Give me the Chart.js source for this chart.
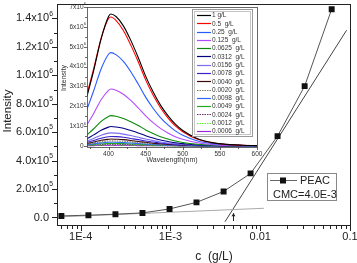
<!DOCTYPE html>
<html>
<head>
<meta charset="utf-8">
<script src="https://cdn.jsdelivr.net/npm/chart.js@4.4.1/dist/chart.umd.min.js"></script>
<style>
  html, body { margin: 0; padding: 0; background: #fff; }
  #wrap { position: relative; width: 357px; height: 263px; }
  #wrap canvas { position: absolute; left: 0; top: 0; }
</style>
</head>
<body>
<div id="wrap">
  <canvas id="mainChart" width="357" height="263"></canvas>
  <canvas id="insetChart" width="357" height="263"></canvas>
</div>
<script>
// main plot: intensity vs concentration (g/L)
const concentrations = [6.1e-5, 1.22e-4, 2.44e-4, 4.88e-4, 9.77e-4, 1.95e-3, 3.91e-3, 7.81e-3, 0.0156, 0.03125, 0.0625];
const intensity = [11000, 16000, 23000, 32000, 60000, 106000, 183000, 310000, 572000, 924000, 1465000];

// the two fitted lines used to find the CMC
const baseFitX = [5.9e-5, 0.011];
const baseFitY = [4000, 64700];
const steepFitX = [4.05e-3, 0.0916];
const steepFitY = [-30000, 1317000];
const arrowX = 4.97e-3;
const arrowY = [-25000, 30000];

const concTicks = [1e-4, 1e-3, 1e-2, 1e-1];
const concTickLabels = ["1E-4", "1E-3", "0.01", "0.1"];
const intensityTicks = [0, 2e5, 4e5, 6e5, 8e5, 1e6, 1.2e6, 1.4e6];
const intensityTickLabels = [["0.0", ""], ["2.0x10", "5"], ["4.0x10", "5"], ["6.0x10", "5"], ["8.0x10", "5"],
  ["1.0x10", "6"], ["1.2x10", "6"], ["1.4x10", "6"]];

// inset: emission spectra (intensity in units of 10^6)
const wavelengths = [371, 380, 390, 400, 403, 410, 420, 430, 440, 450, 460, 470, 480, 490, 500, 520, 540, 560, 580, 600];
const spec_1      = [2.50, 3.80, 5.40, 6.52, 6.65, 6.52, 6.05, 5.32, 4.46, 3.52, 2.73, 2.06, 1.53, 1.10, 0.78, 0.37, 0.17, 0.08, 0.04, 0.02];
const spec_0500   = [2.62, 3.90, 5.42, 6.42, 6.50, 6.33, 5.82, 5.08, 4.24, 3.33, 2.57, 1.93, 1.42, 1.01, 0.72, 0.34, 0.16, 0.07, 0.04, 0.02];
const spec_0250   = [1.85, 2.78, 3.88, 4.62, 4.70, 4.60, 4.26, 3.74, 3.12, 2.46, 1.90, 1.43, 1.06, 0.76, 0.54, 0.25, 0.12, 0.06, 0.03, 0.01];
const spec_0125   = [1.07, 1.64, 2.33, 2.80, 2.87, 2.81, 2.61, 2.30, 1.92, 1.52, 1.18, 0.89, 0.66, 0.47, 0.34, 0.16, 0.07, 0.03, 0.02, 0.01];
const spec_0625   = [0.56, 0.87, 1.24, 1.49, 1.53, 1.50, 1.39, 1.22, 1.03, 0.81, 0.63, 0.47, 0.35, 0.25, 0.18, 0.09, 0.04, 0.02, 0.01, 0.00];
const spec_0312   = [0.36, 0.56, 0.79, 0.95, 0.98, 0.96, 0.89, 0.78, 0.66, 0.52, 0.40, 0.30, 0.23, 0.16, 0.12, 0.05, 0.03, 0.01, 0.01, 0.00];
const spec_0156   = [0.25, 0.38, 0.54, 0.65, 0.66, 0.65, 0.60, 0.53, 0.44, 0.35, 0.27, 0.20, 0.15, 0.11, 0.08, 0.04, 0.02, 0.01, 0.00, 0.00];
const spec_0078   = [0.18, 0.28, 0.39, 0.47, 0.48, 0.47, 0.44, 0.38, 0.32, 0.25, 0.20, 0.15, 0.11, 0.08, 0.06, 0.03, 0.01, 0.01, 0.00, 0.00];
const spec_0040   = [0.13, 0.20, 0.29, 0.34, 0.35, 0.34, 0.32, 0.28, 0.23, 0.19, 0.14, 0.11, 0.08, 0.06, 0.04, 0.02, 0.01, 0.00, 0.00, 0.00];
const spec_0020   = [0.10, 0.15, 0.21, 0.25, 0.26, 0.25, 0.24, 0.21, 0.17, 0.14, 0.11, 0.08, 0.06, 0.04, 0.03, 0.01, 0.01, 0.00, 0.00, 0.00];
const spec_0098   = [0.07, 0.11, 0.16, 0.19, 0.19, 0.19, 0.17, 0.15, 0.13, 0.10, 0.08, 0.06, 0.04, 0.03, 0.02, 0.01, 0.00, 0.00, 0.00, 0.00];
const spec_0049   = [0.05, 0.08, 0.11, 0.13, 0.13, 0.13, 0.12, 0.10, 0.09, 0.07, 0.05, 0.04, 0.03, 0.02, 0.02, 0.01, 0.00, 0.00, 0.00, 0.00];
const spec_0024   = [0.03, 0.05, 0.07, 0.09, 0.09, 0.09, 0.08, 0.07, 0.06, 0.05, 0.04, 0.03, 0.02, 0.01, 0.01, 0.01, 0.00, 0.00, 0.00, 0.00];
const spec_0012   = [0.02, 0.03, 0.05, 0.06, 0.06, 0.06, 0.05, 0.05, 0.04, 0.03, 0.02, 0.02, 0.01, 0.01, 0.01, 0.00, 0.00, 0.00, 0.00, 0.00];
const spec_0006   = [0.01, 0.02, 0.03, 0.03, 0.035, 0.03, 0.03, 0.03, 0.02, 0.02, 0.01, 0.01, 0.01, 0.01, 0.00, 0.00, 0.00, 0.00, 0.00, 0.00];

const specLabels = ["1 g/L", "0.5  g/L", "0.25  g/L", "0.125  g/L", "0.0625  g/L", "0.0312  g/L", "0.0156  g/L",
  "0.0078  g/L", "0.0040  g/L", "0.0020  g/L", "0.0098  g/L", "0.0049  g/L", "0.0024  g/L", "0.0012  g/L", "0.0006  g/L"];
const specColors = ["#000000", "#ff0000", "#2a5bff", "#b24cff", "#0a8a0a", "#000080", "#7a6cf0",
  "#3a22c8", "#3d0a0a", "#7f8060", "#2f6bff", "#22aa22", "#7a2a6a", "#55ee22", "#9a2ae0"];
const specDashed = [false, false, false, false, false, false, false, false, false, true, false, false, true, true, false];

const wlTicks = [400, 450, 500, 550, 600];
const specTicks = [0, 1, 2, 3, 4, 5, 6, 7];

const specSeries = [spec_1, spec_0500, spec_0250, spec_0125, spec_0625, spec_0312, spec_0156,
  spec_0078, spec_0040, spec_0020, spec_0098, spec_0049, spec_0024, spec_0012, spec_0006];

const FONT = '"Liberation Sans", Arial, sans-serif';

// text with a raised exponent, base right-aligned at x
function sciLabel(ctx, base, sup, x, y, size) {
  ctx.font = size + "px " + FONT;
  ctx.textAlign = "right";
  ctx.textBaseline = "middle";
  ctx.fillText(base, x, y);
  if (sup) {
    ctx.font = (size * 0.62) + "px " + FONT;
    ctx.textAlign = "left";
    ctx.fillText(sup, x + 0.3, y - size * 0.42);
  }
}

const px = v => Math.round(v) + 0.5;

const mainDeco = {
  id: "mainDeco",
  afterDraw(chart) {
    const { ctx, chartArea: a, scales: { x, y } } = chart;
    ctx.save();
    ctx.strokeStyle = "#222";
    ctx.lineWidth = 1;
    ctx.strokeRect(px(a.left), px(a.top), Math.round(a.right - a.left), Math.round(a.bottom - a.top) - 1);

    // log ticks on bottom
    ctx.beginPath();
    for (let n = -5; n <= -1; n++) {
      for (let k = 1; k <= 9; k++) {
        const v = k * Math.pow(10, n);
        if (v < x.min * 0.999 || v > x.max * 1.001) continue;
        const xp = px(x.getPixelForValue(v));
        ctx.moveTo(xp, a.bottom);
        ctx.lineTo(xp, a.bottom + (k === 1 ? 5 : 3));
      }
    }
    // y ticks on left
    for (let v = 0; v <= 1.45e6; v += 1e5) {
      const yp = px(y.getPixelForValue(v));
      const major = Math.round(v / 1e5) % 2 === 0;
      ctx.moveTo(a.left, yp);
      ctx.lineTo(a.left - (major ? 5 : 3), yp);
    }
    ctx.stroke();

    ctx.fillStyle = "#222";
    concTicks.forEach((v, i) => {
      ctx.font = "11px " + FONT;
      ctx.textAlign = "center";
      ctx.textBaseline = "middle";
      ctx.fillText(concTickLabels[i], x.getPixelForValue(v), a.bottom + 11);
    });
    intensityTicks.forEach((v, i) => {
      sciLabel(ctx, intensityTickLabels[i][0], intensityTickLabels[i][1], 49, y.getPixelForValue(v), 11);
    });

    // axis titles
    ctx.font = "12px " + FONT;
    ctx.textAlign = "center";
    ctx.textBaseline = "middle";
    ctx.fillText("c  (g/L)", 214, 257);
    ctx.save();
    ctx.translate(8, 111);
    ctx.rotate(-Math.PI / 2);
    ctx.font = "11.5px " + FONT;
    ctx.fillText("Intensity", 0, 0);
    ctx.restore();

    // small arrow at the CMC
    const ax = px(x.getPixelForValue(arrowX));
    const ay0 = y.getPixelForValue(arrowY[0]);
    const ay1 = y.getPixelForValue(arrowY[1]);
    ctx.beginPath();
    ctx.moveTo(ax, ay0);
    ctx.lineTo(ax, ay1);
    ctx.stroke();
    ctx.beginPath();
    ctx.moveTo(ax - 2, ay1 + 3);
    ctx.lineTo(ax, ay1);
    ctx.lineTo(ax + 2, ay1 + 3);
    ctx.closePath();
    ctx.fill();

    // legend box
    ctx.fillStyle = "#fff";
    ctx.fillRect(267, 173, 70, 28);
    ctx.strokeStyle = "#888";
    ctx.strokeRect(267.5, 173.5, 69, 27);
    ctx.strokeStyle = "#666";
    ctx.beginPath();
    ctx.moveTo(270, 180.5);
    ctx.lineTo(297, 180.5);
    ctx.stroke();
    ctx.fillStyle = "#111";
    ctx.fillRect(280, 177.5, 6, 6);
    ctx.fillStyle = "#222";
    ctx.font = "11px " + FONT;
    ctx.textAlign = "left";
    ctx.textBaseline = "middle";
    ctx.fillText("PEAC", 300, 181);
    ctx.fillText("CMC=4.0E-3", 273, 194.5);
    ctx.restore();
  }
};

new Chart(document.getElementById("mainChart"), {
  type: "scatter",
  data: {
    datasets: [
      {
        label: "PEAC",
        data: concentrations.map((c, i) => ({ x: c, y: intensity[i] })),
        showLine: true,
        borderColor: "#555",
        borderWidth: 1,
        pointStyle: "rect",
        pointRadius: 4.2,
        pointBackgroundColor: "#111",
        pointBorderColor: "#111",
        pointBorderWidth: 0
      },
      {
        label: "base fit",
        data: baseFitX.map((c, i) => ({ x: c, y: baseFitY[i] })),
        showLine: true,
        borderColor: "#aaa",
        borderWidth: 1,
        pointRadius: 0
      },
      {
        label: "steep fit",
        data: steepFitX.map((c, i) => ({ x: c, y: steepFitY[i] })),
        showLine: true,
        borderColor: "#444",
        borderWidth: 1,
        pointRadius: 0
      }
    ]
  },
  options: {
    responsive: false,
    animation: false,
    events: [],
    layout: { padding: { top: 2, right: 7, left: 0, bottom: 0 } },
    plugins: { legend: { display: false }, tooltip: { enabled: false } },
    scales: {
      x: {
        type: "logarithmic",
        min: 5.45e-5,
        max: 0.1,
        ticks: { display: false },
        grid: { display: false },
        border: { display: false },
        afterFit: s => { s.height = 37; }
      },
      y: {
        type: "linear",
        min: -60000,
        max: 1500000,
        ticks: { display: false },
        grid: { display: false },
        border: { display: false },
        afterFit: s => { s.width = 57; }
      }
    }
  },
  plugins: [mainDeco]
});

const insetDeco = {
  id: "insetDeco",
  afterDraw(chart) {
    const { ctx, chartArea: a, scales: { x, y } } = chart;
    ctx.save();
    ctx.strokeStyle = "#444";
    ctx.lineWidth = 0.8;
    ctx.strokeRect(px(a.left), px(a.top), Math.round(a.right - a.left), Math.round(a.bottom - a.top));

    ctx.beginPath();
    for (let v = 375; v <= 600; v += 25) {
      const xp = px(x.getPixelForValue(v));
      ctx.moveTo(xp, a.bottom);
      ctx.lineTo(xp, a.bottom + (v % 50 === 0 ? 3 : 2));
    }
    for (let v = 0; v <= 7; v += 0.5) {
      const yp = px(y.getPixelForValue(v));
      ctx.moveTo(a.left, yp);
      ctx.lineTo(a.left - (v % 1 === 0 ? 3 : 2), yp);
    }
    ctx.stroke();

    ctx.fillStyle = "#333";
    ctx.font = "6.5px " + FONT;
    ctx.textAlign = "center";
    ctx.textBaseline = "middle";
    wlTicks.forEach(v => ctx.fillText(String(v), x.getPixelForValue(v), a.bottom + 7));
    specTicks.forEach(v => {
      sciLabel(ctx, v === 0 ? "0" : v + "x10", v === 0 ? "" : "6", 83.5, y.getPixelForValue(v), 6.5);
    });

    ctx.font = "7px " + FONT;
    ctx.textAlign = "center";
    ctx.textBaseline = "middle";
    ctx.fillText("Wavelength(nm)", 172, 160);
    ctx.save();
    ctx.translate(64, 78);
    ctx.rotate(-Math.PI / 2);
    ctx.fillText("Intensity", 0, 0);
    ctx.restore();

    // legend
    ctx.fillStyle = "#fff";
    ctx.fillRect(193, 10, 60, 127);
    ctx.lineWidth = 1;
    ctx.strokeStyle = "#999";
    ctx.strokeRect(192.5, 9.5, 60, 127);
    ctx.strokeStyle = "#c4c4c4";
    ctx.strokeRect(194.5, 11.5, 56, 123);
    specLabels.forEach((lab, i) => {
      const yy = 15 + i * 8.29;
      ctx.strokeStyle = specColors[i];
      ctx.lineWidth = 1.2;
      ctx.setLineDash(specDashed[i] ? [1.5, 1] : []);
      ctx.beginPath();
      ctx.moveTo(197, Math.round(yy) + 0.5);
      ctx.lineTo(211, Math.round(yy) + 0.5);
      ctx.stroke();
      ctx.setLineDash([]);
      ctx.fillStyle = "#333";
      ctx.font = "6.5px " + FONT;
      ctx.textAlign = "left";
      ctx.textBaseline = "middle";
      ctx.fillText(lab, 212, yy + 0.5);
    });
    ctx.restore();
  }
};

new Chart(document.getElementById("insetChart"), {
  type: "scatter",
  data: {
    datasets: specSeries.map((arr, i) => ({
      label: specLabels[i],
      data: wavelengths.map((w, j) => ({ x: w, y: arr[j] })),
      showLine: true,
      borderColor: specColors[i],
      borderWidth: 1.1,
      borderDash: specDashed[i] ? [1.5, 1] : [],
      pointRadius: 0,
      cubicInterpolationMode: "monotone"
    }))
  },
  options: {
    responsive: false,
    animation: false,
    events: [],
    layout: { padding: { top: 7, right: 100, left: 0, bottom: 0 } },
    plugins: { legend: { display: false }, tooltip: { enabled: false } },
    scales: {
      x: {
        type: "linear",
        min: 371,
        max: 600,
        ticks: { display: false },
        grid: { display: false },
        border: { display: false },
        afterFit: s => { s.height = 116; }
      },
      y: {
        type: "linear",
        min: -0.05,
        max: 7,
        ticks: { display: false },
        grid: { display: false },
        border: { display: false },
        afterFit: s => { s.width = 87; }
      }
    }
  },
  plugins: [insetDeco]
});
</script>
</body>
</html>
